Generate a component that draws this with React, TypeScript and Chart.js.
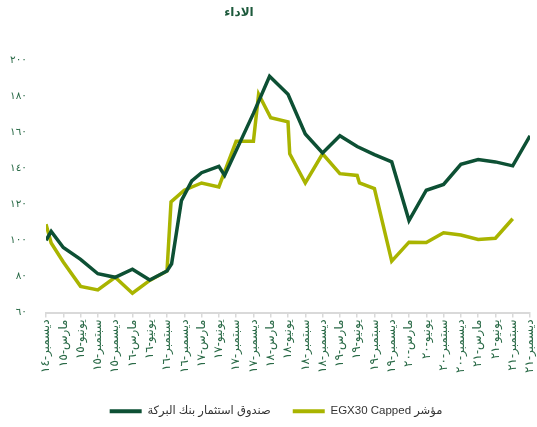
import React, { useEffect, useRef } from 'react';
import { Chart, registerables } from 'chart.js';

Chart.register(...registerables);

const chartTitle = 'الاداء';

const xTickLabels = [
  'ديسمبر-١٤', 'مارس-١٥', 'يونيو-١٥', 'سبتمبر-١٥', 'ديسمبر-١٥',
  'مارس-١٦', 'يونيو-١٦', 'سبتمبر-١٦', 'ديسمبر-١٦',
  'مارس-١٧', 'يونيو-١٧', 'سبتمبر-١٧', 'ديسمبر-١٧',
  'مارس-١٨', 'يونيو-١٨', 'سبتمبر-١٨', 'ديسمبر-١٨',
  'مارس-١٩', 'يونيو-١٩', 'سبتمبر-١٩', 'ديسمبر-١٩',
  'مارس-٢٠', 'يونيو-٢٠', 'سبتمبر-٢٠', 'ديسمبر-٢٠',
  'مارس-٢١', 'يونيو-٢١', 'سبتمبر-٢١', 'ديسمبر-٢١',
];

const yTickLabels = ['٦٠', '٨٠', '١٠٠', '١٢٠', '١٤٠', '١٦٠', '١٨٠', '٢٠٠'];
const yTickValues = [60, 80, 100, 120, 140, 160, 180, 200];

const fundName = 'صندوق استثمار بنك البركة';
// months since Dec 2014
const fundMonths = [0, 0.9, 3, 6, 9, 12, 15, 18, 21, 21.8, 23.5, 25.3, 27, 30, 31, 36, 38.8, 42, 45, 48, 51, 54, 57, 60, 63, 66, 69, 72, 75, 78, 81, 84];
const fundValues = [100, 105, 96, 89.5, 81.5, 79.5, 84, 78, 83, 87, 122, 133, 137.5, 141, 136, 170.4, 191, 181, 159, 148.5, 158, 152, 147.5, 143.5, 111, 127.8, 131, 142.2, 144.8, 143.5, 141.3, 158];

const indexName = 'مؤشر EGX30 Capped';
const indexMonths = [0, 0.9, 3, 6, 9, 12, 15, 18, 21, 21.7, 24, 27, 30, 33, 36, 36.9, 39, 42, 42.3, 45, 48, 51, 54, 54.4, 57, 60, 63, 66, 69, 72, 75, 78, 81];
const indexValues = [109, 98.5, 88, 74.5, 72.5, 79.5, 70.7, 77.8, 83, 121.3, 127.8, 131.8, 129.6, 155, 155, 181, 168, 165.7, 148, 131.8, 148, 137, 136, 131.8, 128.7, 88.5, 99, 98.8, 104.2, 103, 100.5, 101.2, 112];

const FONT = '"Liberation Sans", "DejaVu Sans", sans-serif';
const GREEN = '#0d5034';
const YELLOW = '#a9b400';
const LABEL_GREEN = '#2a6a47';

export default function App() {
  const ref = useRef<HTMLCanvasElement>(null);

  useEffect(() => {
    if (!ref.current) return;
    const titlePlugin = {
      id: 'customTitle',
      afterDraw(chart: any) {
        const ctx = chart.ctx;
        ctx.save();
        ctx.font = 'bold 12px ' + FONT;
        ctx.fillStyle = '#1d5a3c';
        ctx.textAlign = 'center';
        ctx.textBaseline = 'middle';
        ctx.fillText(chartTitle, chart.width * 0.445, 13);
        ctx.restore();
      },
    };
    const legendShift = {
      id: 'legendShift',
      afterLayout(chart: any) {
        const lg = chart.legend;
        if (lg) {
          lg.left += 11;
          lg.right += 11;
        }
      },
    };

    const chart = new Chart(ref.current, {
      type: 'line',
      data: {
        datasets: [
          {
            label: fundName,
            data: fundMonths.map((m, i) => ({ x: m, y: fundValues[i] })),
            borderColor: GREEN,
            backgroundColor: GREEN,
            borderWidth: 3.5,
            pointRadius: 0,
            tension: 0,
          },
          {
            label: indexName,
            data: indexMonths.map((m, i) => ({ x: m, y: indexValues[i] })),
            borderColor: YELLOW,
            backgroundColor: YELLOW,
            borderWidth: 3.5,
            pointRadius: 0,
            tension: 0,
          },
        ],
      },
      options: {
        animation: false,
        responsive: true,
        maintainAspectRatio: false,
        layout: { padding: { top: 60, right: 7, left: 0, bottom: 0 } },
        plugins: {
          title: { display: false },
          tooltip: { enabled: false },
          legend: {
            position: 'bottom',
            rtl: false,
            textDirection: 'rtl',
            labels: {
              boxWidth: 32,
              boxHeight: 4,
              padding: 22,
              color: '#333333',
              font: { size: 11.5, family: FONT },
              generateLabels: (c: any) =>
                (Chart.defaults.plugins.legend.labels as any)
                  .generateLabels(c)
                  .map((l: any) => ({ ...l, lineWidth: 0, fillStyle: l.strokeStyle })),
            },
          },
        },
        scales: {
          x: {
            type: 'linear',
            min: 0,
            max: (xTickLabels.length - 1) * 3,
            afterBuildTicks: (s: any) => {
              s.ticks = xTickLabels.map((_, i) => ({ value: i * 3 }));
            },
            afterFit: (s: any) => {
              s.height = 71;
              s.paddingLeft = 0;
              s.paddingRight = 0;
            },
            ticks: {
              autoSkip: false,
              maxRotation: 90,
              minRotation: 90,
              padding: 2,
              color: LABEL_GREEN,
              font: { size: 12, family: FONT },
              callback: (_v: any, i: number) => xTickLabels[i],
            },
            grid: {
              display: true,
              drawOnChartArea: false,
              drawTicks: true,
              tickLength: 5,
              color: '#d9d9d9',
              lineWidth: 1.5,
            },
            border: { display: true, color: '#d9d9d9', width: 2 },
          },
          y: {
            type: 'linear',
            min: 60,
            max: 200,
            afterBuildTicks: (s: any) => {
              s.ticks = yTickValues.map((v) => ({ value: v }));
            },
            afterFit: (s: any) => {
              s.width = 46;
            },
            ticks: {
              padding: 19,
              color: LABEL_GREEN,
              font: { size: 10.5, family: FONT },
              callback: (_v: any, i: number) => yTickLabels[i],
            },
            grid: { display: false, drawTicks: false },
            border: { display: false },
          },
        },
      },
      plugins: [titlePlugin, legendShift],
    } as any);

    return () => chart.destroy();
  }, []);

  return (
    <div style={{ position: 'fixed', left: 0, top: 0, width: 537, height: 427 }}>
      <canvas ref={ref} />
    </div>
  );
}
